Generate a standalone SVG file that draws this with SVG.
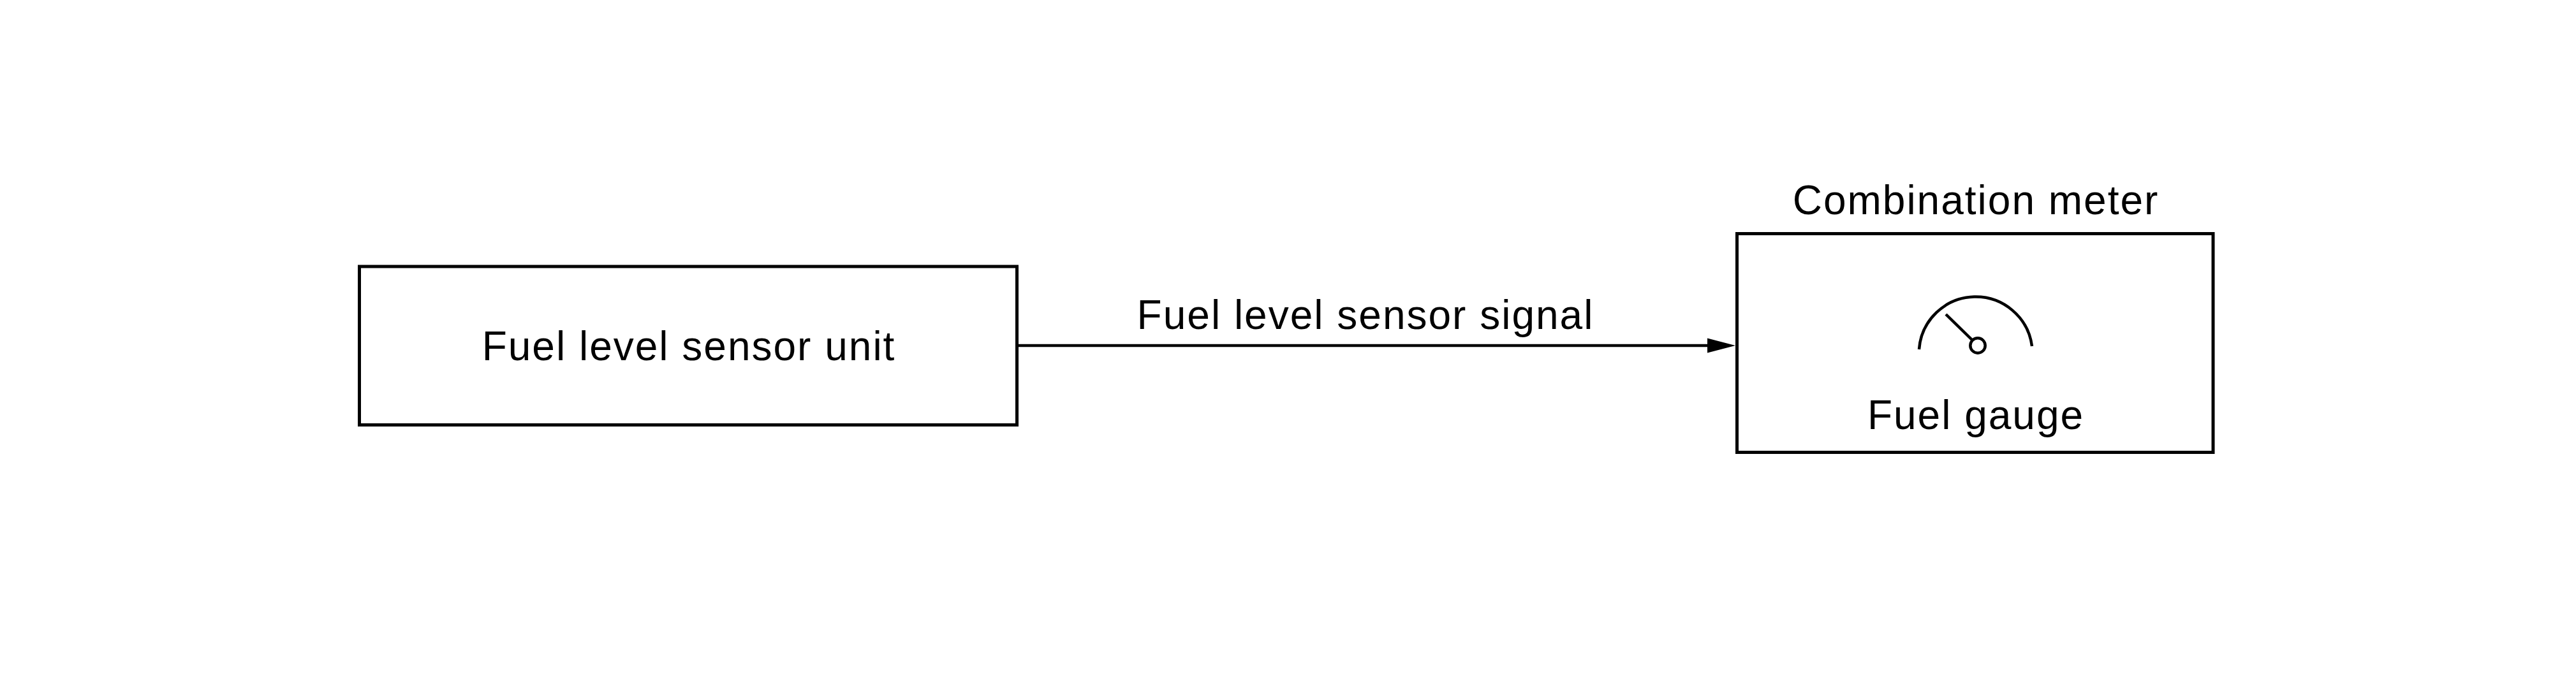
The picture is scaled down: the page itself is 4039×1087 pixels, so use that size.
<svg xmlns="http://www.w3.org/2000/svg" width="4039" height="1087" viewBox="0 0 4039 1087">
<style>
.box{fill:none;stroke:#000;stroke-width:5}
.ln{fill:none;stroke:#000;stroke-width:4.5;stroke-linecap:butt}
.t{font-family:"Liberation Sans",Arial,sans-serif;font-size:64px;letter-spacing:2px;fill:#000;text-anchor:middle}
</style>
<rect width="4039" height="1087" fill="#fff"/>
<g id="fuel-level-sensor-unit">
<rect class="box" x="563.5" y="418" width="1031" height="248.5"/>
<text class="t" x="1080" y="565">Fuel level sensor unit</text>
</g>
<g id="combination-meter">
<text class="t" x="3098" y="336">Combination meter</text>
<rect class="box" x="2723.5" y="366.5" width="746.5" height="343"/>
<g id="fuel-gauge-icon">
<path class="ln" d="M3009,548 A89,89 0 0 1 3186,543"/>
<line class="ln" x1="3051" y1="493" x2="3092.5" y2="533.5"/>
<circle class="ln" cx="3101" cy="542" r="11.7"/>
</g>
<text class="t" x="3098" y="673">Fuel gauge</text>
</g>
<g id="connectors">
<line class="ln" x1="1597" y1="542" x2="2680" y2="542"/>
<polygon points="2721,542 2677,530.5 2677,553.5" fill="#000"/>
<text class="t" x="2141" y="516">Fuel level sensor signal</text>
</g>
</svg>
